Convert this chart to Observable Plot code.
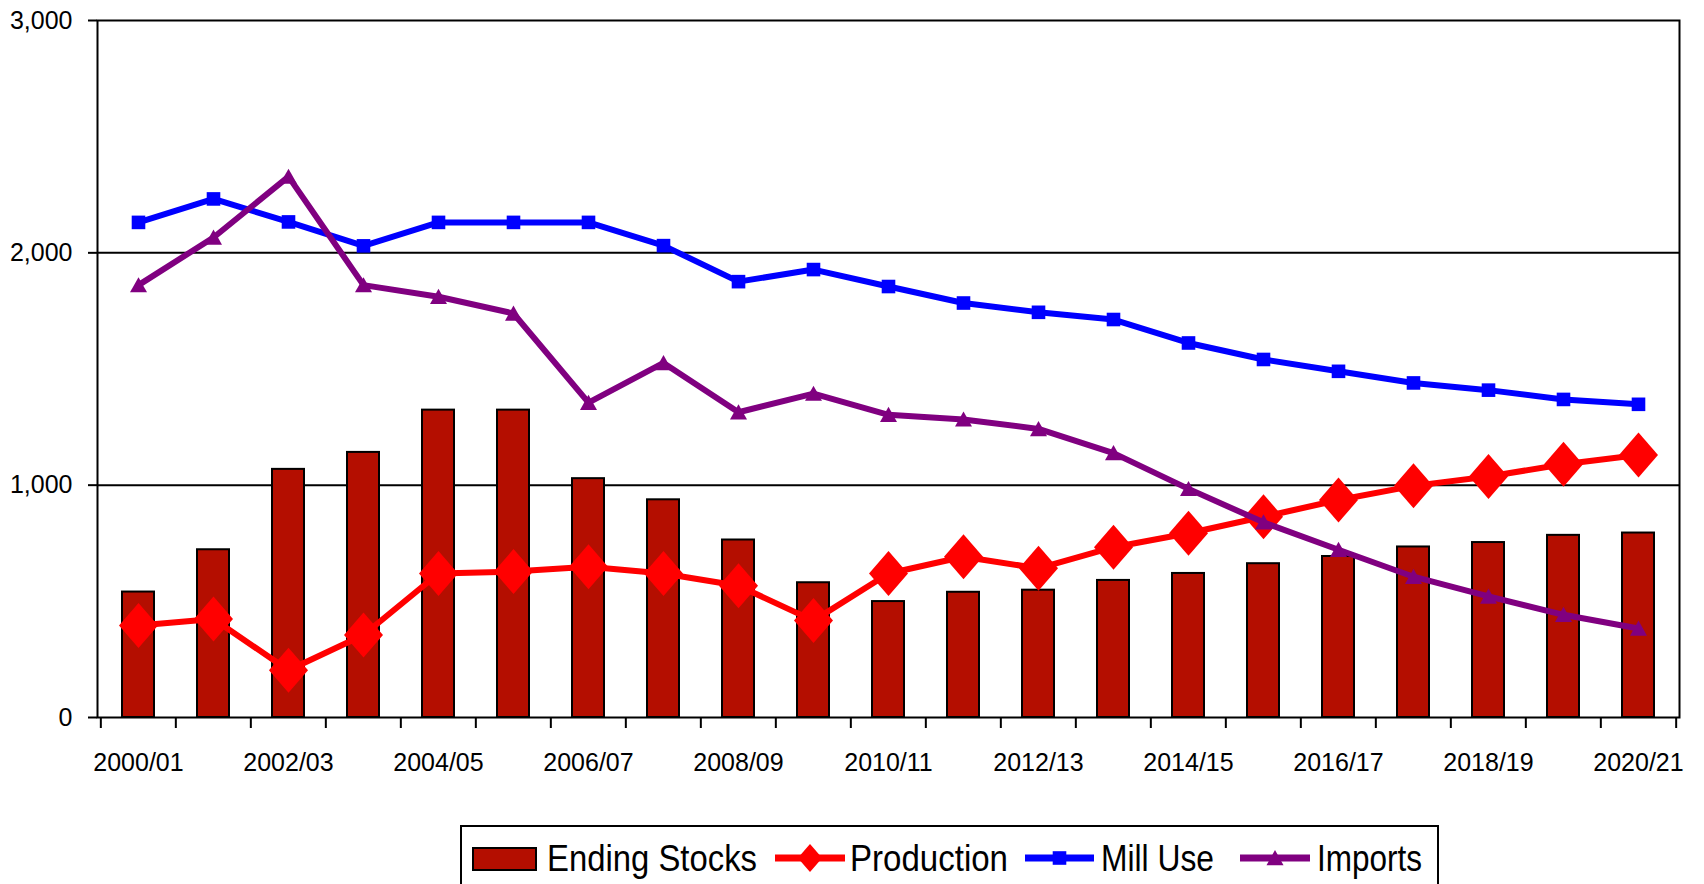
<!DOCTYPE html>
<html>
<head>
<meta charset="utf-8">
<script src="https://cdn.jsdelivr.net/npm/d3@7"></script>
<script src="https://cdn.jsdelivr.net/npm/@observablehq/plot@0.6"></script>
<style>
  html, body { margin: 0; padding: 0; background: white; }
  #wrap { position: relative; width: 1704px; height: 884px; overflow: hidden; font-family: "Liberation Sans", Arial, sans-serif; }
  #legend { position: absolute; left: 0; top: 820px; }
</style>
</head>
<body>
<div id="wrap"></div>
<script>
const categories = ["2000/01","2001/02","2002/03","2003/04","2004/05","2005/06","2006/07","2007/08","2008/09","2009/10","2010/11","2011/12","2012/13","2013/14","2014/15","2015/16","2016/17","2017/18","2018/19","2019/20","2020/21"];
const endingStocks = [540, 722, 1068, 1141, 1323, 1323, 1028, 937, 764, 580, 499, 539, 548, 590, 620, 662, 693, 734, 753, 784, 794];
const production   = [396, 424, 203, 355, 620, 628, 649, 620, 567, 417, 620, 692, 642, 733, 793, 864, 936, 997, 1037, 1090, 1130];
const millUse      = [2131, 2232, 2133, 2030, 2131, 2131, 2131, 2031, 1876, 1928, 1855, 1784, 1744, 1713, 1612, 1541, 1490, 1440, 1409, 1369, 1348];
const imports      = [1861, 2066, 2328, 1861, 1811, 1739, 1355, 1526, 1314, 1394, 1303, 1283, 1242, 1138, 984, 840, 722, 606, 521, 442, 383];
const seriesNames  = ["Ending Stocks", "Production", "Mill Use", "Imports"];
const yTicks       = [0, 1000, 2000, 3000];
const xLabelTicks  = categories.filter((d, i) => i % 2 === 0);

const colors = {stocks: "#b40e00", production: "#ff0000", mill: "#0000ff", imports: "#800080"};

const data = categories.map((c, i) => ({
  cat: c, stocks: endingStocks[i], production: production[i], mill: millUse[i], imports: imports[i]
}));

// custom marker shapes (size = pi r^2)
const diamond = {draw(ctx, size) { const r = Math.sqrt(size / Math.PI); const w = r * 0.975, h = r * 1.125;
  ctx.moveTo(0, -h); ctx.lineTo(w, 0); ctx.lineTo(0, h); ctx.lineTo(-w, 0); ctx.closePath(); }};
const square = {draw(ctx, size) { const r = Math.sqrt(size / Math.PI); const s = r * 0.68;
  ctx.rect(-s, -s, 2 * s, 2 * s); }};
const triangle = {draw(ctx, size) { const r = Math.sqrt(size / Math.PI); const w = r * 0.85, h = r * 0.8;
  ctx.moveTo(0, -h); ctx.lineTo(w, h * 0.9); ctx.lineTo(-w, h * 0.9); ctx.closePath(); }};

const W = 1704, H = 820;
const mL = 97, mR = 25, mT = 20, mB = 103;
const bw = (W - mL - mR) / categories.length;

const chart = Plot.plot({
  width: W, height: H,
  marginLeft: mL, marginRight: mR, marginTop: mT, marginBottom: mB,
  style: {fontFamily: '"Liberation Sans", Arial, sans-serif', fontSize: "25px", color: "black", background: "white", overflow: "visible"},
  x: {type: "band", domain: categories, paddingInner: 0.575, paddingOuter: 0.2875},
  y: {domain: [0, 3000]},
  marks: [
    Plot.ruleY([1000, 2000], {stroke: "black", strokeWidth: 2}),
    Plot.barY(data, {x: "cat", y: "stocks", fill: colors.stocks, stroke: "black", strokeWidth: 2}),
    Plot.frame({stroke: "black", strokeWidth: 2}),
    Plot.axisY({ticks: yTicks, tickSize: 9, tickPadding: 16, tickFormat: d3.format(","), strokeWidth: 2, fontSize: 25, label: null}),
    Plot.axisX({ticks: xLabelTicks, tickSize: 0, tickPadding: 36, fontSize: 25, label: null}),
    Plot.axisX({ticks: categories, tickSize: 11, tickFormat: () => "", dx: -bw / 2, strokeWidth: 2, label: null}),
    Plot.axisX({ticks: categories.slice(-1), tickSize: 11, tickFormat: () => "", dx: bw / 2, strokeWidth: 2, label: null}),
    Plot.line(data, {x: "cat", y: "production", stroke: colors.production, strokeWidth: 6}),
    Plot.dot(data, {x: "cat", y: "production", symbol: diamond, r: 20, fill: colors.production, stroke: "none"}),
    Plot.line(data, {x: "cat", y: "mill", stroke: colors.mill, strokeWidth: 6}),
    Plot.dot(data, {x: "cat", y: "mill", symbol: square, r: 10, fill: colors.mill, stroke: "none"}),
    Plot.line(data, {x: "cat", y: "imports", stroke: colors.imports, strokeWidth: 6}),
    Plot.dot(data, {x: "cat", y: "imports", symbol: triangle, r: 10, fill: colors.imports, stroke: "none"})
  ]
});

const wrap = document.getElementById("wrap");
wrap.appendChild(chart);

// Legend (below the plot)
const lg = d3.select(wrap).append("svg").attr("id", "legend").attr("width", W).attr("height", 64)
  .style("font-family", '"Liberation Sans", Arial, sans-serif');
const oy = 820;
lg.append("rect").attr("x", 461).attr("y", 826 - oy).attr("width", 977).attr("height", 80)
  .attr("fill", "white").attr("stroke", "black").attr("stroke-width", 2);
const base = 871 - oy, mid = 858 - oy;
// Ending Stocks swatch
lg.append("rect").attr("x", 473).attr("y", 848 - oy).attr("width", 63).attr("height", 22)
  .attr("fill", colors.stocks).attr("stroke", "black").attr("stroke-width", 2);
const sym = (s, r) => d3.symbol(s, Math.PI * r * r)();
function lineSwatch(x1, x2, color, shape, r) {
  lg.append("line").attr("x1", x1).attr("x2", x2).attr("y1", mid).attr("y2", mid)
    .attr("stroke", color).attr("stroke-width", 7);
  lg.append("path").attr("d", sym(shape, r)).attr("transform", `translate(${(x1 + x2) / 2},${mid})`).attr("fill", color);
}
lineSwatch(775, 845, colors.production, diamond, 12.5);
lineSwatch(1025, 1094, colors.mill, square, 10);
lineSwatch(1240, 1310, colors.imports, triangle, 10);
const labels = [
  {t: seriesNames[0], x: 547, w: 210},
  {t: seriesNames[1], x: 850, w: 158},
  {t: seriesNames[2], x: 1101, w: 113},
  {t: seriesNames[3], x: 1317, w: 105}
];
for (const l of labels) {
  lg.append("text").attr("x", l.x).attr("y", base).attr("font-size", 36)
    .attr("textLength", l.w).attr("lengthAdjust", "spacingAndGlyphs").attr("fill", "black").text(l.t);
}
</script>
</body>
</html>
